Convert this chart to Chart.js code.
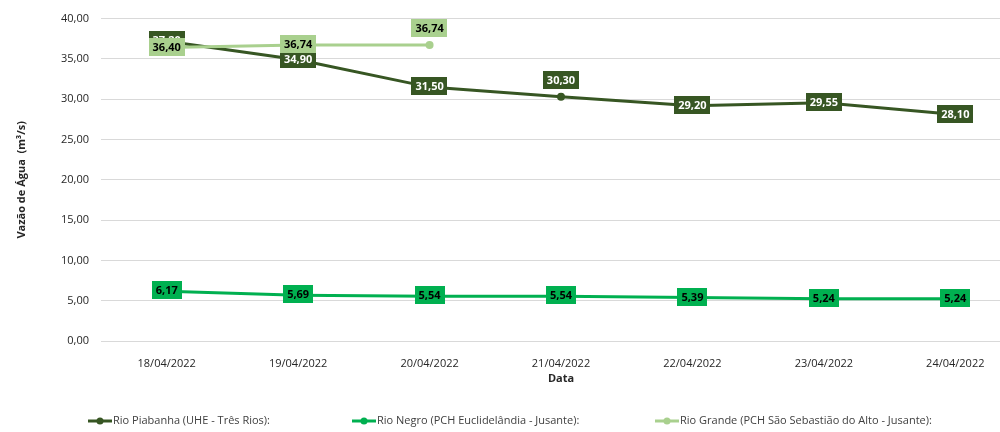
<!DOCTYPE html>
<html>
<head>
<meta charset="utf-8">
<script src="https://cdn.jsdelivr.net/npm/chart.js@4/dist/chart.umd.min.js"></script>
<style>
  html, body { margin: 0; padding: 0; background: #fff; overflow: hidden; }
  #wrap { width: 1030px; height: 432px; }
</style>
</head>
<body>
<div id="wrap"><canvas id="vazaoChart" width="1030" height="432"></canvas></div>
<script>
const datas = ['18/04/2022', '19/04/2022', '20/04/2022', '21/04/2022', '22/04/2022', '23/04/2022', '24/04/2022'];
const piabanha = [37.20, 34.90, 31.50, 30.30, 29.20, 29.55, 28.10];
const negro = [6.17, 5.69, 5.54, 5.54, 5.39, 5.24, 5.24];
const grande = [36.40, 36.74, 36.74, null, null, null, null];
const nomes = [
  'Rio Piabanha (UHE - Três Rios):',
  'Rio Negro (PCH Euclidelândia - Jusante):',
  'Rio Grande (PCH São Sebastião do Alto - Jusante):'
];

const FONT = '"Open Sans", "Noto Sans", sans-serif';
const fmt = v => v.toFixed(2).replace('.', ',');

// rótulos de dados desenhados à mão (sem plugin externo)
const rotulos = {
  id: 'rotulos',
  afterDatasetsDraw(chart) {
    const ctx = chart.ctx;
    ctx.save();
    ctx.font = 'bold 11px ' + FONT;
    ctx.textAlign = 'center';
    ctx.textBaseline = 'middle';
    chart.data.datasets.forEach((ds, i) => {
      const meta = chart.getDatasetMeta(i);
      meta.data.forEach((pt, j) => {
        const v = ds.data[j];
        if (v == null) return;
        const txt = fmt(v);
        const w = ctx.measureText(txt).width + 8;
        const h = 18;
        const y = ds.labelPos[j] === 't' ? pt.y - 17 : pt.y - 1;
        ctx.fillStyle = ds.borderColor;
        ctx.fillRect(Math.round(pt.x - w / 2), Math.round(y - h / 2), Math.round(w), h);
        ctx.fillStyle = ds.labelColor;
        ctx.fillText(txt, pt.x, y + 1);
      });
    });
    ctx.restore();
  }
};

// legenda no estilo do Excel
const legenda = {
  id: 'legenda',
  afterDraw(chart) {
    const ctx = chart.ctx;
    const xs = [88, 352, 655];
    const y = 421;
    ctx.save();
    ctx.font = '11px ' + FONT;
    ctx.textBaseline = 'middle';
    chart.data.datasets.forEach((ds, i) => {
      const x = xs[i];
      ctx.strokeStyle = ds.borderColor;
      ctx.lineWidth = 3;
      ctx.beginPath();
      ctx.moveTo(x, y);
      ctx.lineTo(x + 24, y);
      ctx.stroke();
      ctx.fillStyle = ds.borderColor;
      ctx.beginPath();
      ctx.arc(x + 12, y, 3.5, 0, Math.PI * 2);
      ctx.fill();
      ctx.fillStyle = '#404040';
      ctx.fillText(nomes[i], x + 25, y);
    });
    ctx.restore();
  }
};

const ctx = document.getElementById('vazaoChart').getContext('2d');
new Chart(ctx, {
  type: 'line',
  data: {
    labels: datas,
    datasets: [
      {
        label: nomes[0], data: piabanha, order: 3,
        borderColor: '#375623', backgroundColor: '#375623', labelColor: '#ffffff',
        labelPos: ['c', 'c', 'c', 't', 'c', 'c', 'c']
      },
      {
        label: nomes[1], data: negro, order: 2,
        borderColor: '#00b050', backgroundColor: '#00b050', labelColor: '#000000',
        labelPos: ['c', 'c', 'c', 'c', 'c', 'c', 'c']
      },
      {
        label: nomes[2], data: grande, order: 1,
        borderColor: '#a9d08e', backgroundColor: '#a9d08e', labelColor: '#000000',
        labelPos: ['c', 'c', 't', 'c', 'c', 'c', 'c']
      }
    ]
  },
  options: {
    responsive: false,
    animation: false,
    events: [],
    layout: { padding: { top: 18, right: 9, bottom: 47, left: 0 } },
    elements: {
      line: { borderWidth: 3, tension: 0 },
      point: { radius: 4, borderWidth: 0 }
    },
    plugins: {
      legend: { display: false },
      tooltip: { enabled: false }
    },
    scales: {
      x: {
        offset: true,
        grid: { display: false },
        border: { display: false },
        ticks: { color: '#262626', font: { family: FONT, size: 11 }, padding: 8, maxRotation: 0 },
        title: { display: true, text: 'Data', color: '#262626', font: { family: FONT, size: 11, weight: 'bold' }, padding: 0 },
        afterFit(s) { s.height = 44; }
      },
      y: {
        min: 0, max: 40,
        ticks: { stepSize: 5, color: '#262626', font: { family: FONT, size: 11 }, padding: 12, callback: v => fmt(v) },
        grid: { color: '#d9d9d9', drawTicks: false },
        border: { display: false },
        title: { display: true, text: 'Vazão de Água  (m³/s)', color: '#262626', font: { family: FONT, size: 11, weight: 'bold' }, padding: { top: 15 } },
        afterFit(s) { s.width = 101; }
      }
    }
  },
  plugins: [rotulos, legenda]
});
</script>
</body>
</html>
